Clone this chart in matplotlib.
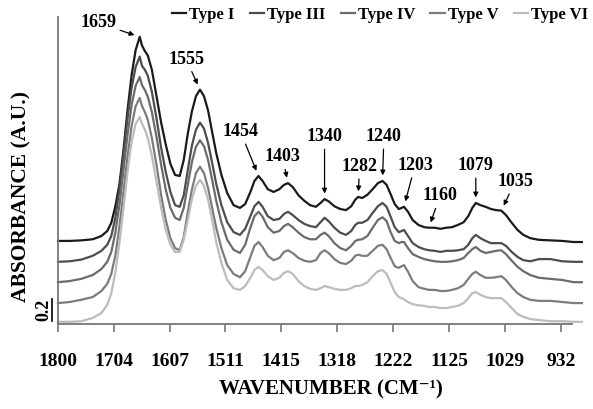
import numpy as np
import matplotlib
matplotlib.use("Agg")
import matplotlib.pyplot as plt
from matplotlib.transforms import blended_transform_factory

plt.rcParams['font.family'] = ['Liberation Serif', 'DejaVu Serif']
plt.rcParams['font.weight'] = 'bold'

# wavenumber grid (cm-1)
wavenumber = [1800, 1780, 1760, 1740, 1725, 1715, 1708, 1701, 1694, 1687, 1680, 1673, 1666,
              1659, 1655, 1650, 1645, 1638, 1630, 1622, 1614, 1606, 1598, 1590, 1583, 1576,
              1569, 1562, 1555, 1548, 1541, 1534, 1527, 1518, 1508, 1497, 1486, 1477, 1468,
              1461, 1454, 1447, 1438, 1428, 1418, 1410, 1403, 1395, 1385, 1375, 1365, 1355,
              1347, 1340, 1333, 1323, 1313, 1303, 1294, 1287, 1282, 1275, 1266, 1257, 1248,
              1240, 1233, 1226, 1219, 1212, 1207, 1203, 1196, 1188, 1178, 1168, 1160, 1150,
              1140, 1130, 1120, 1110, 1100, 1092, 1085, 1079, 1071, 1062, 1053, 1044, 1035,
              1027, 1017, 1007, 997, 985, 970, 950, 930, 910, 896]

type_1 = [0.755, 0.755, 0.76, 0.77, 0.80, 0.845, 0.92, 1.07, 1.27, 1.58, 1.945, 2.26, 2.49,
          2.61, 2.53, 2.48, 2.44, 2.31, 2.07, 1.83, 1.63, 1.455, 1.355, 1.345, 1.49, 1.73,
          1.93, 2.07, 2.13, 2.07, 1.94, 1.745, 1.555, 1.355, 1.19, 1.08, 1.055, 1.09, 1.20,
          1.30, 1.345, 1.30, 1.225, 1.20, 1.225, 1.265, 1.28, 1.245, 1.17, 1.12, 1.08, 1.065,
          1.10, 1.135, 1.115, 1.07, 1.045, 1.035, 1.07, 1.13, 1.155, 1.145, 1.175, 1.225, 1.28,
          1.30, 1.265, 1.18, 1.09, 1.045, 1.055, 1.065, 1.02, 0.945, 0.90, 0.88, 0.875, 0.875,
          0.865, 0.875, 0.88, 0.90, 0.925, 0.98, 1.055, 1.10, 1.08, 1.065, 1.045, 1.035, 1.03,
          0.99, 0.92, 0.855, 0.81, 0.78, 0.765, 0.76, 0.755, 0.745, 0.745]

type_3 = [0.565, 0.57, 0.585, 0.62, 0.665, 0.72, 0.80, 0.965, 1.22, 1.535, 1.87, 2.145, 2.335,
          2.43, 2.345, 2.31, 2.255, 2.11, 1.87, 1.60, 1.38, 1.20, 1.08, 1.065, 1.17, 1.40,
          1.62, 1.765, 1.83, 1.775, 1.645, 1.465, 1.275, 1.08, 0.925, 0.835, 0.81, 0.865, 0.98,
          1.07, 1.11, 1.065, 0.98, 0.945, 0.955, 1.00, 1.02, 0.99, 0.945, 0.91, 0.89, 0.88,
          0.925, 0.965, 0.935, 0.875, 0.83, 0.81, 0.845, 0.90, 0.92, 0.92, 0.945, 1.01, 1.07,
          1.10, 1.065, 0.975, 0.88, 0.835, 0.845, 0.855, 0.80, 0.735, 0.70, 0.68, 0.67, 0.665,
          0.655, 0.665, 0.665, 0.67, 0.68, 0.72, 0.78, 0.81, 0.78, 0.755, 0.735, 0.735, 0.735,
          0.71, 0.655, 0.61, 0.58, 0.57, 0.59, 0.59, 0.57, 0.565, 0.565]

type_4 = [0.38, 0.39, 0.41, 0.445, 0.50, 0.565, 0.655, 0.83, 1.08, 1.40, 1.72, 1.99, 2.165,
          2.245, 2.17, 2.125, 2.065, 1.925, 1.70, 1.445, 1.22, 1.055, 0.965, 0.945, 1.055, 1.265,
          1.47, 1.61, 1.67, 1.615, 1.49, 1.31, 1.12, 0.925, 0.765, 0.675, 0.645, 0.72, 0.875,
          0.98, 1.02, 0.975, 0.88, 0.83, 0.845, 0.89, 0.91, 0.88, 0.83, 0.79, 0.77, 0.77,
          0.81, 0.83, 0.80, 0.735, 0.69, 0.67, 0.71, 0.755, 0.765, 0.77, 0.80, 0.875, 0.945,
          0.97, 0.935, 0.835, 0.755, 0.735, 0.745, 0.745, 0.69, 0.635, 0.61, 0.59, 0.58, 0.57,
          0.565, 0.565, 0.57, 0.58, 0.60, 0.645, 0.68, 0.70, 0.665, 0.645, 0.655, 0.665, 0.67,
          0.635, 0.575, 0.52, 0.48, 0.445, 0.42, 0.41, 0.40, 0.38, 0.38]

type_5 = [0.19, 0.20, 0.22, 0.245, 0.30, 0.365, 0.455, 0.625, 0.88, 1.20, 1.525, 1.80, 1.98,
          2.055, 1.98, 1.925, 1.855, 1.69, 1.445, 1.17, 0.945, 0.78, 0.69, 0.67, 0.79, 1.02,
          1.22, 1.37, 1.43, 1.37, 1.235, 1.055, 0.875, 0.69, 0.535, 0.455, 0.425, 0.48, 0.61,
          0.71, 0.745, 0.70, 0.62, 0.58, 0.60, 0.655, 0.67, 0.645, 0.60, 0.575, 0.565, 0.58,
          0.645, 0.67, 0.645, 0.59, 0.555, 0.545, 0.575, 0.62, 0.63, 0.62, 0.62, 0.665, 0.71,
          0.72, 0.68, 0.60, 0.525, 0.51, 0.525, 0.535, 0.475, 0.39, 0.335, 0.32, 0.31, 0.31,
          0.30, 0.30, 0.31, 0.325, 0.355, 0.41, 0.455, 0.475, 0.445, 0.42, 0.42, 0.425, 0.435,
          0.40, 0.335, 0.28, 0.245, 0.22, 0.21, 0.21, 0.20, 0.19, 0.19]

type_6 = [0.02, 0.02, 0.025, 0.055, 0.10, 0.175, 0.28, 0.47, 0.735, 1.055, 1.38, 1.655, 1.82,
          1.88, 1.82, 1.765, 1.69, 1.53, 1.29, 1.055, 0.855, 0.72, 0.655, 0.655, 0.765, 0.945,
          1.135, 1.255, 1.31, 1.255, 1.13, 0.945, 0.745, 0.555, 0.40, 0.325, 0.31, 0.345, 0.42,
          0.49, 0.52, 0.49, 0.435, 0.40, 0.42, 0.465, 0.48, 0.455, 0.39, 0.345, 0.32, 0.31,
          0.325, 0.345, 0.335, 0.32, 0.31, 0.31, 0.325, 0.345, 0.345, 0.355, 0.38, 0.435, 0.48,
          0.49, 0.455, 0.375, 0.29, 0.245, 0.235, 0.225, 0.20, 0.18, 0.17, 0.165, 0.155, 0.155,
          0.145, 0.145, 0.155, 0.165, 0.19, 0.235, 0.28, 0.29, 0.265, 0.245, 0.235, 0.235, 0.235,
          0.20, 0.145, 0.09, 0.065, 0.045, 0.035, 0.025, 0.025, 0.02, 0.02]

series_names = ['Type I', 'Type III', 'Type IV', 'Type V', 'Type VI']
series_colors = ['#1a1a1a', '#4d4d4d', '#6b6b6b', '#7c7c7c', '#bcbcbc']

tick_values = [1800, 1704, 1607, 1511, 1415, 1318, 1222, 1125, 1029, 932]

peak_labels = [1659, 1555, 1454, 1403, 1340, 1282, 1240, 1203, 1160, 1079, 1035]
# text offsets (points) from the marked peak
peak_offsets = [(-30, 10), (-10, 22), (-13, 32), (-4, 19), (0, 45), (1, 22),
                (1, 32), (8, 30), (8, 23), (0, 27), (10, 21)]

scale_bar = 0.2

fig = plt.figure(figsize=(5.93, 4.09), dpi=100)
ax = fig.add_axes([58 / 593, 85 / 409, 514 / 593, 307 / 409])

all_series = [type_1, type_3, type_4, type_5, type_6]
for vals, name, col in zip(all_series, series_names, series_colors):
    ax.plot(wavenumber, vals, color=col, lw=1.6, label=name, clip_on=False)

ax.set_xlim(1800, 913)
ax.set_ylim(0, 2.79)
ax.set_xticks(tick_values)
ax.set_xticklabels([str(t) for t in tick_values])
ax.set_yticks([])
ax.tick_params(axis='x', direction='out', length=6, width=1.2, color='#777777',
               pad=15, labelsize=14)
for lab in ax.get_xticklabels():
    lab.set_fontweight('bold')
for s in ['top', 'right']:
    ax.spines[s].set_visible(False)
for s in ['left', 'bottom']:
    ax.spines[s].set_color('#777777')
    ax.spines[s].set_linewidth(1.3)

# peak annotations on Type I
for pk, off in zip(peak_labels, peak_offsets):
    yv = type_1[wavenumber.index(pk)]
    ax.annotate(str(pk), xy=(pk, yv), xytext=off, textcoords='offset points',
                ha='center', va='center', fontsize=13, fontweight='bold',
                arrowprops=dict(arrowstyle='-|>', color='black', lw=0.9,
                                shrinkA=1, shrinkB=4, mutation_scale=7))

# absorbance scale bar
trans = blended_transform_factory(ax.transAxes, ax.transData)
ax.plot([-0.0117, -0.0117], [0.03, 0.03 + scale_bar], color='black', lw=1.2,
        transform=trans, clip_on=False)
ax.text(-0.027, 0.03 + scale_bar / 2, '0.2', rotation=90, ha='center', va='center',
        fontsize=13, fontweight='bold', transform=trans)

fig.text(21 / 593, 1 - 196 / 409, 'ABSORBANCE (A.U.)', rotation=90, ha='center',
         va='center', fontsize=15.5, fontweight='bold')
fig.text(331 / 593, 1 - 389 / 409, 'WAVENUMBER (CM\u207b\u00b9)', ha='center',
         va='center', fontsize=15, fontweight='bold')

fig.legend(loc='center', bbox_to_anchor=(380 / 593, 1 - 15 / 409), ncol=5, frameon=False,
           handlelength=0.85, handletextpad=0.2, columnspacing=0.9,
           borderaxespad=0, borderpad=0, prop={'weight': 'bold', 'size': 12})

fig.savefig('out.png', dpi=100)
